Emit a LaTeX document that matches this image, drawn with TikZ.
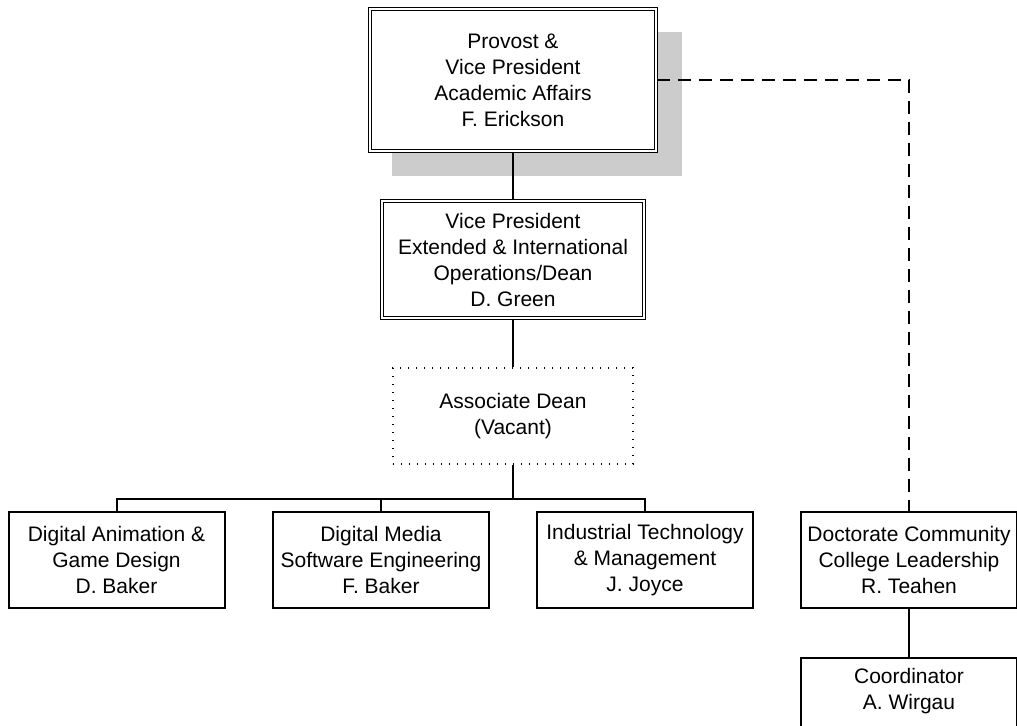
\documentclass[tikz,border=0pt]{standalone}
\usepackage{fontspec}
\setmainfont{Liberation Sans}
\usepackage{tikz}

\begin{document}
\begin{tikzpicture}[x=0.75pt,y=-0.75pt,
        unit/.style={draw, fill=white, line width=1.5pt, align=center, inner sep=0pt,
            minimum width=162pt, minimum height=72pt,
            font=\fontsize{15.75pt}{19.5pt}\selectfont},
        headunit/.style={unit, line width=1.2pt, double, double distance=1.1pt},
        vacantunit/.style={unit, line width=0.9pt, dash pattern=on 0.9pt off 5.1pt},
        link/.style={line width=1.5pt},
        dottedlink/.style={line width=1.5pt, dash pattern=on 9.75pt off 6pt}]
        \useasboundingbox (0,0) rectangle (1017,725);

        % 阴影与上层
        \fill[black!20] (392,32) rectangle (682,176);
        \node[headunit, minimum width=214.5pt, minimum height=106.5pt] (provost) at (513,80)
            {Provost \&\\Vice President\\Academic Affairs\\F. Erickson};
        \node[headunit, minimum width=196.5pt, minimum height=87.75pt] (vp) at (513,259.5)
            {Vice President\\Extended \& International\\Operations/Dean\\D. Green};
        \node[vacantunit, minimum width=180pt] (assoc) at (513,416)
            {Associate Dean\\(Vacant)};

        % 下层各部门
        \node[unit] (anim) at (116.5,560) {Digital Animation \&\\Game Design\\D. Baker};
        \node[unit] (media) at (381,560) {Digital Media\\Software Engineering\\F. Baker};
        \node[unit] (ind) at (645,560) {Industrial Technology\\\& Management\\J. Joyce};
        \node[unit] (doct) at (909,560) {Doctorate Community\\College Leadership\\R. Teahen};
        \node[unit] (coord) at (909,706) {Coordinator\\A. Wirgau\\\strut};

        % 连线
        \coordinate (bus) at (513,499);
        \coordinate (corner) at (909,80);
        \draw[link] (provost) -- (vp);
        \draw[link] (vp) -- (assoc);
        \draw[link] (assoc) -- (bus);
        \draw[link] (anim.north) -- (anim.north |- bus) -- (ind.north |- bus) -- (ind.north);
        \draw[link] (media.north) -- (media.north |- bus);
        \draw[dottedlink] (provost.east) -- (corner) -- (doct.north);
        \draw[link] (doct) -- (coord);
\end{tikzpicture}
\end{document}
